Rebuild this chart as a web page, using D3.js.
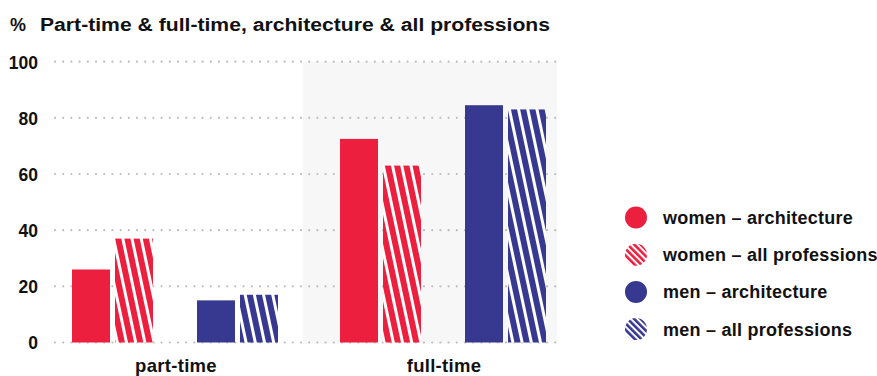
<!DOCTYPE html>
<html>
<head>
<meta charset="utf-8">
<script src="https://cdn.jsdelivr.net/npm/d3@7"></script>
<style>
  html, body { margin: 0; padding: 0; background: #ffffff; }
  svg { display: block; }
  text { font-family: "Liberation Sans", Arial, sans-serif; font-weight: bold; fill: #111; }
</style>
</head>
<body>
<svg id="chart" width="877" height="376"></svg>
<script>
// Employment share (%) by working time
const groups = ["part-time", "full-time"];
const seriesNames = ["women – architecture", "women – all professions", "men – architecture", "men – all professions"];
const womenArchitecture = [26, 72.5];
const womenAllProfessions = [37, 63];
const menArchitecture = [15, 84.5];
const menAllProfessions = [17, 83];
const yTicks = [0, 20, 40, 60, 80, 100];
const titleText = "Part-time & full-time, architecture & all professions";

const red = "#ed1f3f";
const blue = "#37388f";

const seriesValues = [womenArchitecture, womenAllProfessions, menArchitecture, menAllProfessions];
const seriesInfo = seriesNames.map((name, i) => ({
  name,
  gender: i < 2 ? "women" : "men",
  source: i % 2 === 0 ? "architecture" : "all",
  color: i < 2 ? red : blue,
  striped: i % 2 === 1,
  values: seriesValues[i]
}));

const svg = d3.select("#chart");
const defs = svg.append("defs");

// Stripe patterns: near-vertical for bars, diagonal for legend swatches
function stripePattern(id, color, period, white, angle) {
  const p = defs.append("pattern")
    .attr("id", id)
    .attr("patternUnits", "userSpaceOnUse")
    .attr("width", period)
    .attr("height", period)
    .attr("patternTransform", `rotate(${angle})`);
  p.append("rect").attr("width", period).attr("height", period).attr("fill", "#ffffff");
  p.append("rect").attr("x", 0).attr("width", period - white).attr("height", period).attr("fill", color);
}
stripePattern("barStripeRed", red, 9, 3, -12);
stripePattern("barStripeBlue", blue, 9, 3, -12);
stripePattern("dotStripeRed", red, 4.6, 2, -45);
stripePattern("dotStripeBlue", blue, 4.6, 2, -45);

function fillFor(d, kind) {
  if (!d.striped) return d.color;
  const c = d.color === red ? "Red" : "Blue";
  return `url(#${kind}Stripe${c})`;
}

// Scales
const y = d3.scaleLinear().domain([0, 100]).range([342.5, 61.7]);
const x0 = d3.scaleBand().domain(groups).range([72, 72 + 2 * 268]).paddingInner(0).paddingOuter(0);
const groupWidth = 206;
const x1 = d3.scaleBand().domain(["women", "men"]).range([0, groupWidth]).paddingInner(44 / 125).paddingOuter(0);
const x2 = d3.scaleBand().domain(["architecture", "all"]).range([0, x1.bandwidth()]).paddingInner(5 / 43).paddingOuter(0);

const gridLeft = 55, gridRight = 557;

// Shaded panel behind the full-time group
svg.append("rect")
  .attr("x", 303)
  .attr("y", y(100))
  .attr("width", gridRight - 303)
  .attr("height", y(0) - y(100) + 1)
  .attr("fill", "#f7f7f7");

// Dotted gridlines
svg.append("g").selectAll("line")
  .data(yTicks)
  .join("line")
  .attr("x1", gridLeft)
  .attr("x2", gridRight)
  .attr("y1", d => y(d))
  .attr("y2", d => y(d))
  .attr("stroke", "#bcbcbc")
  .attr("stroke-width", 2.2)
  .attr("stroke-linecap", "round")
  .attr("stroke-dasharray", "0,8.2");

// Y axis labels
const yAxis = d3.axisLeft(y).tickValues(yTicks).tickSize(0).tickPadding(0);
const yg = svg.append("g").attr("transform", "translate(38,0)").call(yAxis);
yg.select(".domain").remove();
yg.selectAll("text")
  .attr("font-size", 17.5)
  .attr("font-family", "Liberation Sans, Arial, sans-serif")
  .attr("font-weight", "bold")
  .attr("fill", "#111")
  .attr("dy", "0.36em");

// Bars
const barData = [];
groups.forEach((g, gi) => {
  seriesInfo.forEach(s => barData.push({ group: g, value: s.values[gi], ...s }));
});
svg.append("g").selectAll("rect")
  .data(barData)
  .join("rect")
  .attr("x", d => x0(d.group) + x1(d.gender) + x2(d.source))
  .attr("width", x2.bandwidth())
  .attr("y", d => y(d.value))
  .attr("height", d => y(0) - y(d.value))
  .attr("fill", d => fillFor(d, "bar"));

// Category labels
svg.append("g").selectAll("text")
  .data(groups)
  .join("text")
  .attr("x", d => x0(d) + groupWidth / 2 + 1)
  .attr("y", 372)
  .attr("text-anchor", "middle")
  .attr("font-size", 18.5)
  .attr("letter-spacing", 0.3)
  .text(d => d);

// Title
svg.append("text").attr("x", 10).attr("y", 31).attr("font-size", 18).text("%");
svg.append("text").attr("x", 40).attr("y", 31).attr("font-size", 18)
  .attr("textLength", 510).attr("lengthAdjust", "spacingAndGlyphs")
  .text(titleText);

// Legend
const legend = svg.append("g").selectAll("g")
  .data(seriesInfo)
  .join("g")
  .attr("transform", (d, i) => `translate(636,${217.5 + i * 37.2})`);
legend.append("circle").attr("r", 11).attr("fill", d => fillFor(d, "dot"));
legend.append("text")
  .attr("x", 27)
  .attr("dy", "0.36em")
  .attr("font-size", 18)
  .attr("letter-spacing", 0.25)
  .text(d => d.name);
</script>
</body>
</html>
